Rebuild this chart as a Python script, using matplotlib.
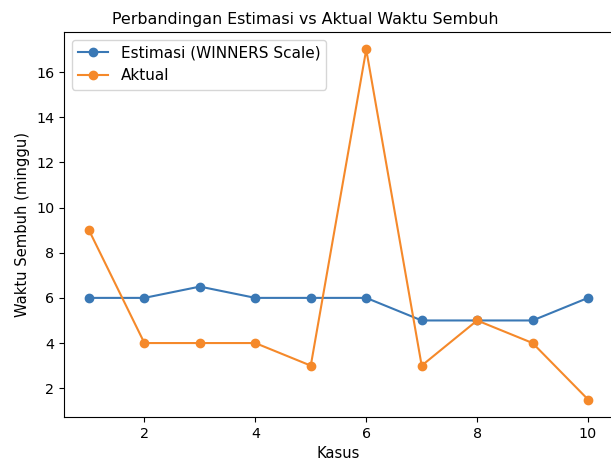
import matplotlib
matplotlib.use("Agg")
import matplotlib.pyplot as plt

kasus = [1, 2, 3, 4, 5, 6, 7, 8, 9, 10]
estimasi = [6, 6, 6.5, 6, 6, 6, 5, 5, 5, 6]
aktual = [9, 4, 4, 4, 3, 17, 3, 5, 4, 1.5]

fig = plt.figure(figsize=(6.11, 4.61), dpi=100)
ax = fig.add_axes([64/611, 44/461, 549/611, 385/461])
ax.plot(kasus, estimasi, marker='o', color='#3a78b5', label='Estimasi (WINNERS Scale)')
ax.plot(kasus, aktual, marker='o', color='#f5892a', label='Aktual')
ax.set_title('Perbandingan Estimasi vs Aktual Waktu Sembuh', fontsize=11.4, x=0.44)
ax.set_xlabel('Kasus', fontsize=10.6)
ax.set_ylabel('Waktu Sembuh (minggu)', fontsize=10.6)
ax.tick_params(labelsize=10.3)
ax.legend(loc='upper left', fontsize=11)
fig.savefig('out.png', dpi=100)
